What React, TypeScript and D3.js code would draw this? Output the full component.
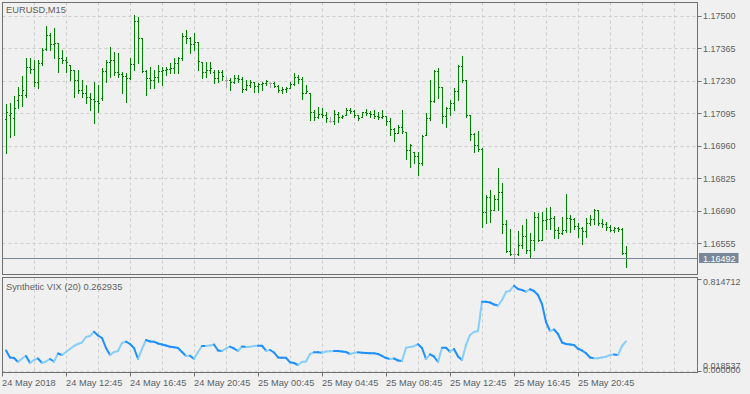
import React from "react";
import * as d3 from "d3";

const symbolTitle = "EURUSD,M15";
const indicatorTitle = "Synthetic VIX (20)";
const priceTicks = [1.175, 1.17365, 1.1723, 1.17095, 1.1696, 1.16825, 1.1669, 1.16555];
const timeLabels = ["24 May 2018", "24 May 12:45", "24 May 16:45", "24 May 20:45", "25 May 00:45", "25 May 04:45", "25 May 08:45", "25 May 12:45", "25 May 16:45", "25 May 20:45"];
const timeLabelBars = [-1, 15, 31, 47, 63, 79, 95, 111, 127, 143];
const lastPrice = 1.16492;
const vixScaleMax = 0.814712;
const vixScaleMinLabel = 0.018537;
const vixLevel = 0.0;

const open = [1.17072,1.17088,1.17076,1.17151,1.17171,1.17171,1.17288,1.17280,1.17225,1.17304,1.17363,1.17421,1.17384,1.17388,1.17325,1.17317,1.17296,1.17275,1.17234,1.17192,1.17180,1.17163,1.17155,1.17146,1.17159,1.17271,1.17309,1.17317,1.17267,1.17259,1.17250,1.17242,1.17300,1.17479,1.17408,1.17271,1.17242,1.17234,1.17246,1.17271,1.17275,1.17280,1.17284,1.17304,1.17325,1.17417,1.17408,1.17384,1.17392,1.17309,1.17267,1.17275,1.17267,1.17242,1.17267,1.17234,1.17234,1.17225,1.17242,1.17238,1.17196,1.17213,1.17225,1.17209,1.17217,1.17221,1.17221,1.17221,1.17209,1.17192,1.17196,1.17200,1.17217,1.17246,1.17238,1.17180,1.17180,1.17101,1.17080,1.17092,1.17088,1.17063,1.17063,1.17092,1.17080,1.17088,1.17109,1.17105,1.17088,1.17080,1.17101,1.17096,1.17092,1.17084,1.17080,1.17084,1.17063,1.17030,1.17013,1.17038,1.17017,1.16943,1.16934,1.16918,1.16888,1.17005,1.17076,1.17146,1.17271,1.17205,1.17084,1.17117,1.17138,1.17188,1.17292,1.17234,1.17088,1.17009,1.16963,1.16947,1.16685,1.16747,1.16693,1.16739,1.16768,1.16635,1.16522,1.16510,1.16510,1.16547,1.16585,1.16527,1.16568,1.16664,1.16568,1.16651,1.16656,1.16660,1.16610,1.16597,1.16610,1.16660,1.16656,1.16626,1.16618,1.16606,1.16639,1.16656,1.16693,1.16639,1.16635,1.16622,1.16610,1.16618,1.16614,1.16514];
const high = [1.17134,1.17138,1.17167,1.17205,1.17250,1.17325,1.17325,1.17317,1.17317,1.17367,1.17458,1.17429,1.17450,1.17388,1.17359,1.17329,1.17296,1.17275,1.17275,1.17234,1.17213,1.17180,1.17225,1.17213,1.17284,1.17317,1.17371,1.17350,1.17346,1.17267,1.17263,1.17325,1.17504,1.17496,1.17408,1.17275,1.17288,1.17275,1.17296,1.17288,1.17288,1.17304,1.17325,1.17329,1.17429,1.17442,1.17413,1.17429,1.17392,1.17309,1.17309,1.17309,1.17275,1.17275,1.17275,1.17246,1.17242,1.17255,1.17255,1.17246,1.17234,1.17234,1.17225,1.17221,1.17225,1.17234,1.17225,1.17225,1.17213,1.17205,1.17205,1.17225,1.17263,1.17255,1.17246,1.17213,1.17180,1.17109,1.17121,1.17117,1.17101,1.17080,1.17109,1.17101,1.17088,1.17117,1.17117,1.17109,1.17088,1.17101,1.17113,1.17105,1.17109,1.17101,1.17109,1.17084,1.17076,1.17034,1.17047,1.17109,1.17017,1.16968,1.16934,1.16934,1.17005,1.17096,1.17234,1.17275,1.17284,1.17205,1.17121,1.17151,1.17200,1.17296,1.17334,1.17234,1.17088,1.17013,1.17022,1.16951,1.16755,1.16776,1.16755,1.16868,1.16805,1.16651,1.16614,1.16535,1.16606,1.16631,1.16656,1.16597,1.16685,1.16680,1.16685,1.16701,1.16705,1.16668,1.16622,1.16664,1.16760,1.16672,1.16660,1.16639,1.16622,1.16660,1.16672,1.16697,1.16693,1.16656,1.16643,1.16631,1.16622,1.16622,1.16618,1.16543];
const low = [1.16930,1.16997,1.17005,1.17117,1.17126,1.17163,1.17263,1.17209,1.17200,1.17296,1.17359,1.17359,1.17325,1.17267,1.17304,1.17267,1.17234,1.17163,1.17180,1.17163,1.17138,1.17109,1.17055,1.17101,1.17151,1.17225,1.17246,1.17255,1.17246,1.17180,1.17142,1.17238,1.17275,1.17304,1.17267,1.17171,1.17200,1.17200,1.17225,1.17213,1.17255,1.17263,1.17263,1.17263,1.17317,1.17388,1.17346,1.17359,1.17275,1.17242,1.17246,1.17263,1.17221,1.17225,1.17234,1.17205,1.17192,1.17221,1.17225,1.17184,1.17192,1.17205,1.17184,1.17184,1.17192,1.17213,1.17205,1.17205,1.17184,1.17180,1.17184,1.17200,1.17213,1.17221,1.17155,1.17180,1.17067,1.17067,1.17076,1.17080,1.17059,1.17059,1.17051,1.17059,1.17076,1.17088,1.17096,1.17080,1.17067,1.17080,1.17088,1.17080,1.17076,1.17072,1.17076,1.17047,1.17005,1.16980,1.17013,1.17013,1.16905,1.16872,1.16888,1.16839,1.16880,1.17005,1.17067,1.17142,1.17159,1.17055,1.17038,1.17088,1.17109,1.17151,1.17225,1.17080,1.16984,1.16934,1.16938,1.16622,1.16639,1.16643,1.16693,1.16693,1.16597,1.16518,1.16506,1.16472,1.16506,1.16535,1.16514,1.16493,1.16527,1.16564,1.16568,1.16614,1.16614,1.16576,1.16576,1.16593,1.16601,1.16601,1.16614,1.16581,1.16552,1.16581,1.16631,1.16635,1.16631,1.16622,1.16610,1.16606,1.16601,1.16606,1.16510,1.16456];
const close = [1.17101,1.17096,1.17117,1.17171,1.17192,1.17288,1.17280,1.17225,1.17304,1.17359,1.17421,1.17384,1.17388,1.17325,1.17317,1.17309,1.17275,1.17234,1.17192,1.17180,1.17163,1.17155,1.17146,1.17138,1.17271,1.17309,1.17317,1.17267,1.17259,1.17250,1.17242,1.17300,1.17479,1.17408,1.17271,1.17242,1.17234,1.17246,1.17271,1.17275,1.17280,1.17284,1.17304,1.17325,1.17417,1.17408,1.17384,1.17392,1.17313,1.17267,1.17275,1.17284,1.17242,1.17267,1.17250,1.17234,1.17225,1.17242,1.17238,1.17196,1.17213,1.17225,1.17209,1.17217,1.17221,1.17230,1.17221,1.17209,1.17192,1.17196,1.17200,1.17217,1.17246,1.17238,1.17180,1.17188,1.17101,1.17080,1.17092,1.17088,1.17076,1.17063,1.17092,1.17080,1.17084,1.17109,1.17105,1.17088,1.17076,1.17101,1.17096,1.17092,1.17084,1.17080,1.17084,1.17063,1.17030,1.17013,1.17038,1.17022,1.16943,1.16963,1.16918,1.16888,1.17001,1.17076,1.17146,1.17271,1.17205,1.17084,1.17117,1.17138,1.17188,1.17292,1.17234,1.17088,1.17009,1.16963,1.16947,1.16685,1.16747,1.16693,1.16739,1.16768,1.16635,1.16522,1.16510,1.16510,1.16547,1.16585,1.16527,1.16568,1.16664,1.16568,1.16651,1.16656,1.16660,1.16610,1.16597,1.16610,1.16660,1.16656,1.16626,1.16618,1.16606,1.16639,1.16656,1.16693,1.16639,1.16635,1.16622,1.16610,1.16618,1.16614,1.16514,1.16492];

const vix = [0.1816,0.1196,0.1151,0.0797,0.1107,0.1329,0.0709,0.0974,0.1107,0.0709,0.0841,0.1063,0.0841,0.1550,0.1417,0.1683,0.1949,0.2214,0.2391,0.2524,0.3012,0.3100,0.3481,0.3144,0.2923,0.2037,0.1417,0.1683,0.1771,0.2480,0.2595,0.2391,0.2037,0.1063,0.1949,0.2746,0.2613,0.2595,0.2436,0.2347,0.2259,0.2152,0.2099,0.2037,0.1683,0.1329,0.1355,0.1063,0.1683,0.2214,0.2205,0.2259,0.2347,0.1816,0.1771,0.1993,0.2152,0.1993,0.1771,0.2170,0.2126,0.2152,0.2214,0.2241,0.2236,0.1798,0.1860,0.1639,0.1196,0.1178,0.1172,0.0771,0.0709,0.0531,0.0797,0.0841,0.1506,0.1656,0.1650,0.1621,0.1727,0.1745,0.1771,0.1768,0.1727,0.1683,0.1506,0.1594,0.1656,0.1621,0.1594,0.1577,0.1568,0.1506,0.1346,0.1151,0.1063,0.1107,0.0930,0.0886,0.2064,0.2126,0.2197,0.2374,0.2037,0.1063,0.1479,0.1284,0.0797,0.2064,0.2058,0.1709,0.1949,0.1284,0.0974,0.2303,0.3189,0.3454,0.3543,0.6138,0.6129,0.6067,0.5890,0.5802,0.6289,0.6997,0.7113,0.7555,0.7263,0.7175,0.7024,0.7236,0.7086,0.6732,0.5934,0.4340,0.3543,0.3676,0.3277,0.2524,0.2391,0.2347,0.2303,0.1975,0.1816,0.1568,0.1196,0.1125,0.1130,0.1187,0.1258,0.1417,0.1453,0.1410,0.2214,0.262935];

const FONT = "'Liberation Sans', Arial, sans-serif";
const TXT = "#5f5f5f";
const BORDER = "#707070";
const GRID = "#cdcdcd";

export default function App() {
  const n = close.length;
  const x = d3.scaleLinear().domain([0, n - 1]).range([6, 6 + 4 * (n - 1)]);
  const y = d3.scaleLinear().domain([priceTicks[priceTicks.length - 1], priceTicks[0]]).range([243.3, 16]);
  const vy = d3.scaleLinear().domain([0, vixScaleMax]).range([371, 279]);

  const left = 2.5, right = 697.5;
  const mainTop = 2.5, mainBottom = 274.5;
  const indTop = 277.5, indBottom = 372.5;
  const gridBars = d3.range(7, 180, 8).filter((b) => x(b) < right - 2);
  const fmt = d3.format(".5f");

  const segs = vix.slice(1).map((v, k) => ({
    x1: x(k), y1: vy(vix[k]), x2: x(k + 1), y2: vy(v), up: v > vix[k],
  }));

  return (
    <svg width={750} height={394} style={{ position: "absolute", left: 0, top: 0, display: "block" }} fontFamily={FONT}>
      <rect x={0} y={0} width={750} height={394} fill="#f0f0f0" />
      {/* main grid */}
      {priceTicks.map((p) => (
        <line key={"hg" + p} x1={left} x2={right} y1={Math.round(y(p)) + 0.5} y2={Math.round(y(p)) + 0.5} stroke={GRID} strokeDasharray="3,3" />
      ))}
      {gridBars.map((b) => (
        <line key={"vg" + b} x1={Math.round(x(b)) + 0.5} x2={Math.round(x(b)) + 0.5} y1={mainTop} y2={mainBottom} stroke={GRID} strokeDasharray="3,3" />
      ))}
      {/* bars */}
      {close.map((c, i) => {
        const px = Math.round(x(i));
        const yh = Math.round(y(high[i]));
        const yl = Math.round(y(low[i]));
        const col = open[i] === c ? "#a6a6a6" : "#008000";
        return (
          <g key={"b" + i} fill={col}>
            <rect x={px} y={yh} width={1} height={Math.max(1, yl - yh + 1)} />
            <rect x={px - 1} y={Math.round(y(open[i]))} width={1} height={1} />
            <rect x={px + 1} y={Math.round(y(c))} width={1} height={1} />
          </g>
        );
      })}
      {/* current price line */}
      <line x1={left} x2={right} y1={Math.round(y(lastPrice)) + 0.5} y2={Math.round(y(lastPrice)) + 0.5} stroke="#778899" />
      <text x={6} y={13.3} fontSize={9.3} fill={TXT}>{symbolTitle}</text>
      <rect x={left} y={mainTop} width={right - left} height={mainBottom - mainTop} fill="none" stroke={BORDER} />
      {/* right price axis */}
      {priceTicks.map((p) => (
        <g key={"pt" + p}>
          <line x1={right} x2={right + 4} y1={Math.round(y(p)) + 0.5} y2={Math.round(y(p)) + 0.5} stroke={BORDER} />
          <text x={703} y={y(p) + 3.3} fontSize={9} fill={TXT}>{fmt(p)}</text>
        </g>
      ))}
      <rect x={699} y={253} width={39.5} height={10} fill="#778899" />
      <text x={703} y={261.5} fontSize={9} fill="#ffffff">{fmt(lastPrice)}</text>

      {/* indicator panel */}
      {gridBars.map((b) => (
        <line key={"ivg" + b} x1={Math.round(x(b)) + 0.5} x2={Math.round(x(b)) + 0.5} y1={indTop} y2={indBottom} stroke={GRID} strokeDasharray="3,3" />
      ))}
      <line x1={left} x2={right} y1={Math.round(vy(vixLevel)) + 0.5} y2={Math.round(vy(vixLevel)) + 0.5} stroke={GRID} strokeDasharray="3,3" />
      {segs.map((s, k) => (
        <line key={"s" + k} x1={s.x1} y1={s.y1} x2={s.x2} y2={s.y2} stroke={s.up ? "#87cefa" : "#1e90ff"} strokeWidth={2} strokeLinecap="round" />
      ))}
      <text x={6} y={290} fontSize={9.3} fill={TXT}>{indicatorTitle} {vix[vix.length - 1].toFixed(6)}</text>
      <rect x={left} y={indTop} width={right - left} height={indBottom - indTop} fill="none" stroke={BORDER} />
      <line x1={right} x2={right + 4} y1={279.5} y2={279.5} stroke={BORDER} />
      <line x1={right} x2={right + 4} y1={371.5} y2={371.5} stroke={BORDER} />
      <text x={703} y={285.3} fontSize={9} fill={TXT}>{vixScaleMax.toFixed(6)}</text>
      <text x={703} y={369} fontSize={9} fill={TXT}>{vixScaleMinLabel.toFixed(6)}</text>
      <text x={703} y={372.5} fontSize={9} fill={TXT}>{vixLevel.toFixed(6)}</text>

      {/* time axis */}
      {timeLabels.map((t, k) => {
        const px = Math.round(x(timeLabelBars[k])) + 0.5;
        return (
          <g key={"t" + k}>
            <line x1={px} x2={px} y1={indBottom} y2={indBottom + 4} stroke={BORDER} />
            <text x={px - 0.5} y={386} fontSize={9.3} fill={TXT}>{t}</text>
          </g>
        );
      })}
    </svg>
  );
}
